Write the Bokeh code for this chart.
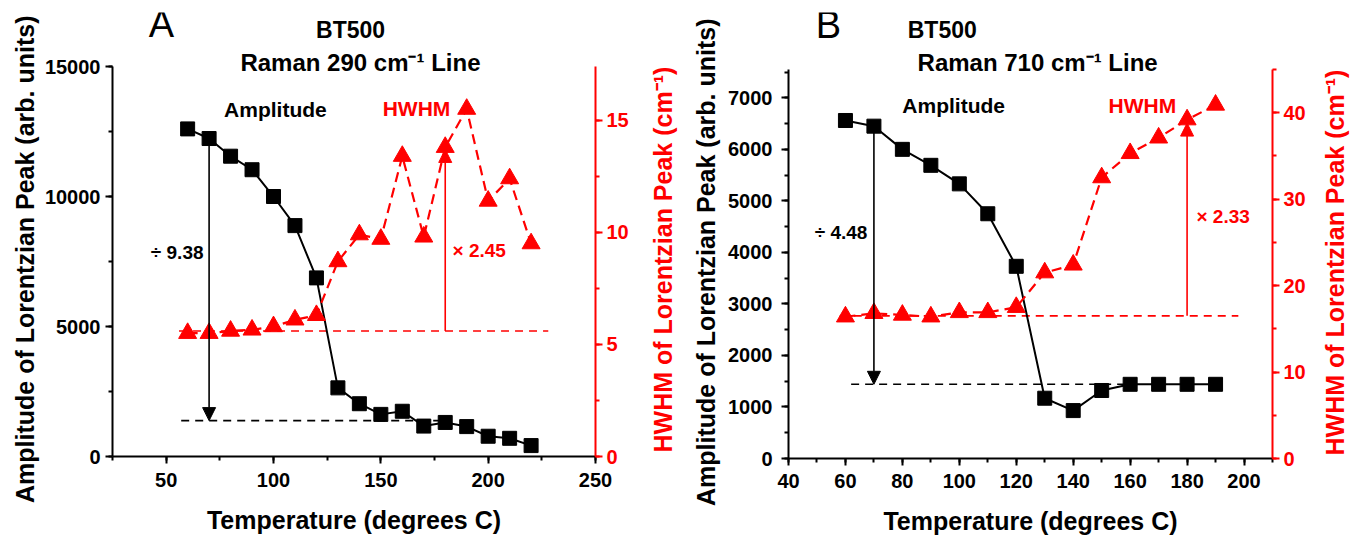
import math
from bokeh.plotting import figure
from bokeh.models import (Range1d, LinearAxis, SingleIntervalTicker, Arrow,
                          NormalHead, Label, Title)
from bokeh.layouts import row
from bokeh.embed import file_html
from bokeh.resources import INLINE

FONT = "Liberation Sans"
RED = "#ff0000"
BLACK = "#000000"

# ---------------- Data: panel A (Raman 290 cm-1) ----------------
temp_a = [60, 70, 80, 90, 100, 110, 120, 130, 140, 150, 160, 170, 180, 190, 200, 210, 220]
amp_a = [12600, 12230, 11550, 11030, 10000, 8880, 6870, 2640, 2030, 1620, 1740,
         1170, 1310, 1150, 780, 700, 420]
hwhm_a = [5.5, 5.5, 5.6, 5.65, 5.8, 6.1, 6.3, 8.7, 9.9, 9.7, 13.4, 9.8, 13.8,
          15.5, 11.4, 12.4, 9.5]
amp_ref_a = 1380          # black dashed reference level
hwhm_ref_a = 5.6          # red dashed reference level
amp_ref_span_a = [57, 178]
hwhm_ref_span_a = [56, 228]
ratio_a = ["÷ 9.38", "× 2.45"]
arrow_idx_amp_a = 1       # 70 C
arrow_idx_hw_a = 12       # 180 C
hw_arrow_top_a = 13.7

# ---------------- Data: panel B (Raman 710 cm-1) ----------------
temp_b = [60, 70, 80, 90, 100, 110, 120, 130, 140, 150, 160, 170, 180, 190]
amp_b = [6560, 6450, 6000, 5690, 5330, 4750, 3730, 1170, 930, 1320, 1440, 1440, 1440, 1440]
hwhm_b = [16.4, 16.8, 16.6, 16.4, 16.9, 16.9, 17.5, 21.5, 22.4, 32.5, 35.3, 37.1, 39.2, 40.9]
amp_ref_b = 1440
hwhm_ref_b = 16.5
amp_ref_span_b = [62, 158]
hwhm_ref_span_b = [58, 198]
ratio_b = ["÷ 4.48", "× 2.33"]
arrow_idx_amp_b = 1
arrow_idx_hw_b = 12
hw_arrow_top_b = 38.8

# axis extents (drawn part) and visible ranges (frame extends above axes for titles)
x_range_a = (25, 250); y_bounds_a = (0, 15000); hw_bounds_a = (0, 17.4)
y_range_a = (0, 17077); hw_range_a = (0, 19.809)
x_range_b = (40, 210); y_bounds_b = (0, 7550); hw_bounds_b = (0, 45)
y_range_b = (0, 8656); hw_range_b = (0, 51.594)

AXIS_TITLE_X = "Temperature (degrees C)"
AXIS_TITLE_Y = "Amplitude of Lorentzian Peak (arb. units)"
AXIS_TITLE_R = "HWHM of Lorentzian Peak (cm⁻¹)"


def style_axis(ax, color, interval, minor, label=None, standoff=8,
               label_standoff=5, bounds=None):
    ax.ticker = SingleIntervalTicker(interval=interval, num_minor_ticks=minor)
    if bounds is not None:
        ax.bounds = bounds
    ax.axis_line_color = color
    ax.axis_line_width = 2
    ax.major_tick_line_color = color
    ax.major_tick_line_width = 2
    ax.major_tick_out = 7
    ax.major_tick_in = 0
    ax.minor_tick_line_color = color
    ax.minor_tick_line_width = 2
    ax.minor_tick_out = 4
    ax.minor_tick_in = 0
    ax.major_label_text_color = color
    ax.major_label_text_font = FONT
    ax.major_label_text_font_size = "20px"
    ax.major_label_text_font_style = "bold"
    ax.major_label_standoff = label_standoff
    if label is not None:
        ax.axis_label = label
        ax.axis_label_text_font = FONT
        ax.axis_label_text_font_size = "25px"
        ax.axis_label_text_font_style = "bold"
        ax.axis_label_text_color = color
        ax.axis_label_standoff = standoff


def side_title(p, text, color, align, offset, valign, standoff, side="left"):
    p.add_layout(Title(text=text, text_color=color, text_font=FONT,
                       text_font_size="25px", text_font_style="bold",
                       align=align, offset=offset, vertical_align=valign,
                       standoff=standoff), side)


def spacer(p, standoff, side="left"):
    p.add_layout(Title(text="\u00a0", text_font_size="1px", text_font=FONT,
                       standoff=standoff), side)


def txt(p, x, y, text, color=BLACK, size="21px", style="bold", align="center",
        y_range_name="default", font=FONT):
    lab = Label(x=x, y=y, text=text, text_color=color, text_font_size=size,
                text_font_style=style, text_align=align, text_baseline="middle",
                text_font=font, y_range_name=y_range_name)
    p.add_layout(lab)


def panel(temp, amp, hwhm, xr, yr, hr, yb, hb, xint, yint, hint, geom,
          amp_ref, hwhm_ref, amp_span, hw_span, ratios, ia, ih, hw_top,
          texts, stds):
    fw, fh, bl, br, bt, bb = geom
    left_lab_std, bot_std, bot_lab_std, right_lab_std = stds
    p = figure(frame_width=fw, frame_height=fh, min_border_left=bl,
               min_border_right=br, min_border_top=bt, min_border_bottom=bb,
               x_range=Range1d(*xr), y_range=Range1d(*yr),
               output_backend="svg", toolbar_location=None,
               background_fill_color="white", border_fill_color="white")
    p.outline_line_color = None
    p.grid.visible = False
    p.extra_y_ranges = {"hw": Range1d(*hr)}

    style_axis(p.xaxis[0], BLACK, xint[0], xint[1], AXIS_TITLE_X,
               standoff=bot_std, label_standoff=bot_lab_std)
    style_axis(p.yaxis[0], BLACK, yint[0], yint[1],
               label_standoff=left_lab_std, bounds=yb)
    rax = LinearAxis(y_range_name="hw")
    style_axis(rax, RED, hint[0], hint[1], label_standoff=right_lab_std,
               bounds=hb)
    p.add_layout(rax, "right")

    # reference dashed lines
    p.line(amp_span, [amp_ref, amp_ref], line_color=BLACK, line_width=1.6,
           line_dash="8 6")
    p.line(hw_span, [hwhm_ref, hwhm_ref], line_color=RED, line_width=1.6,
           line_dash="8 6", y_range_name="hw")

    # arrows
    p.add_layout(Arrow(end=NormalHead(size=13, fill_color=BLACK, line_color=BLACK),
                       x_start=temp[ia], y_start=amp[ia], x_end=temp[ia],
                       y_end=amp_ref, line_color=BLACK, line_width=1.6))
    p.add_layout(Arrow(end=NormalHead(size=13, fill_color=RED, line_color=RED),
                       x_start=temp[ih], y_start=hwhm_ref, x_end=temp[ih],
                       y_end=hw_top, line_color=RED, line_width=1.6,
                       y_range_name="hw"))

    # series
    p.line(temp, amp, line_color=BLACK, line_width=2)
    p.scatter(temp, amp, marker="square", size=14, fill_color=BLACK,
              line_color=BLACK)
    p.line(temp, hwhm, line_color=RED, line_width=2.2, line_dash="10 6",
           y_range_name="hw")
    p.scatter(temp, hwhm, marker="triangle", size=18, fill_color=RED,
              line_color=RED, y_range_name="hw")

    (panel_lab, title1, title2, amp_lab, hw_lab, r1, r2) = texts
    txt(p, *panel_lab, style="normal", size="38px")
    txt(p, *title1, size="23px")
    txt(p, *title2, size="24px")
    txt(p, *amp_lab)
    txt(p, *hw_lab, color=RED, y_range_name="hw")
    txt(p, r1[0], r1[1], ratios[0], size="19px", align="right")
    txt(p, r2[0], r2[1], ratios[1], color=RED, size="19px", align="left",
        y_range_name="hw")
    return p


texts_a = (
    (47.8, 16650, "A"),
    (135.9, 16385, "BT500"),
    (140.5, 15154, "Raman 290 cm⁻¹ Line"),
    (100.9, 13346, "Amplitude"),
    (166.6, 15.53, "HWHM"),
    (67.4, 7846),
    (183.4, 9.19),
)
texts_b = (
    (54.0, 8420, "B"),
    (94.0, 8307, "BT500"),
    (127.5, 7686, "Raman 710 cm⁻¹ Line"),
    (98.0, 6855, "Amplitude"),
    (164.3, 40.8, "HWHM"),
    (67.7, 4389),
    (183.3, 28.0),
)

pa = panel(temp_a, amp_a, hwhm_a, x_range_a, y_range_a, hw_range_a,
           y_bounds_a, hw_bounds_a,
           (50, 2), (5000, 2), (5, 2), (483, 444, 112, 34, 12, 80),
           amp_ref_a, hwhm_ref_a, amp_ref_span_a, hwhm_ref_span_a, ratio_a,
           arrow_idx_amp_a, arrow_idx_hw_a, hw_arrow_top_a, texts_a,
           stds=(5, 16, 9, 4))
# left axis title of panel A
side_title(pa, AXIS_TITLE_Y, BLACK, "right", 3, "top", 2)

pb = panel(temp_b, amp_b, hwhm_b, x_range_b, y_range_b, hw_range_b,
           y_bounds_b, hw_bounds_b,
           (20, 2), (1000, 2), (10, 2), (484, 446, 157, 36, 12, 78),
           amp_ref_b, hwhm_ref_b, amp_ref_span_b, hwhm_ref_span_b, ratio_b,
           arrow_idx_amp_b, arrow_idx_hw_b, hw_arrow_top_b, texts_b,
           stds=(9, 16, 8, 4))
# left axis title of panel B, then (further out) the right axis title of panel A
side_title(pb, AXIS_TITLE_Y, BLACK, "right", 6, "bottom", 11)
spacer(pb, 3)
side_title(pb, AXIS_TITLE_R, RED, "left", 6, "top", 0)

# narrow strip carrying the right axis title of panel B
pc = figure(frame_width=1, frame_height=446, min_border_left=42,
            min_border_right=0, min_border_top=12, min_border_bottom=78,
            x_axis_location=None, y_axis_location=None,
            output_backend="svg", toolbar_location=None,
            background_fill_color="white", border_fill_color="white")
pc.outline_line_color = None
pc.grid.visible = False
side_title(pc, AXIS_TITLE_R, RED, "left", 3, "top", 0)
spacer(pc, 0)

layout = row(pa, pb, pc)
open("out.html", "w").write(file_html(layout, INLINE))
